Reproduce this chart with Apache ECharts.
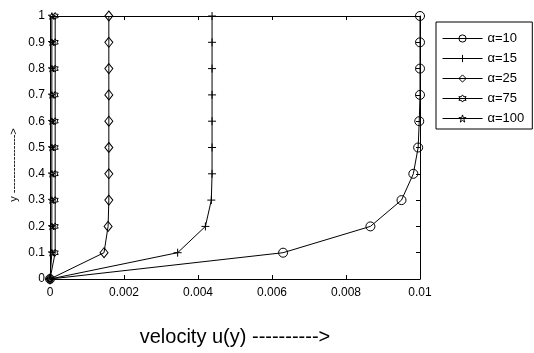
<!DOCTYPE html>
<html>
<head>
<meta charset="utf-8">
<script src="https://cdn.jsdelivr.net/npm/echarts@6/dist/echarts.min.js"></script>
<style>
  html, body { margin: 0; padding: 0; background: #fff; }
  #main { width: 534px; height: 353px; }
</style>
</head>
<body>
<div id="main"></div>
<script>
  // y positions (same for every curve)
  var yPos = [0, 0.1, 0.2, 0.3, 0.4, 0.5, 0.6, 0.7, 0.8, 0.9, 1];
  // velocity u(y) for each alpha
  var uAlpha10 = [0, 0.0063, 0.00866, 0.0095, 0.00982, 0.00995, 0.00998, 0.01, 0.01, 0.01, 0.01];
  var uAlpha15 = [0, 0.00345, 0.0042, 0.00436, 0.00438, 0.00438, 0.00438, 0.00438, 0.00438, 0.00438, 0.00438];
  var uAlpha25 = [0, 0.00146, 0.00157, 0.00159, 0.00159, 0.00159, 0.00159, 0.00159, 0.00159, 0.00159, 0.00159];
  var uAlpha75 = [0, 0.00014, 0.00014, 0.00014, 0.00014, 0.00014, 0.00014, 0.00014, 0.00014, 0.00014, 0.00014];
  var uAlpha100 = [0, 0.00005, 0.00005, 0.00005, 0.00005, 0.00005, 0.00005, 0.00005, 0.00005, 0.00005, 0.00005];
  var seriesNames = ['α=10', 'α=15', 'α=25', 'α=75', 'α=100'];

  // tick labels
  var xTickLabels = ['0', '0.002', '0.004', '0.006', '0.008', '0.01'];
  var yTickLabels = ['0', '0.1', '0.2', '0.3', '0.4', '0.5', '0.6', '0.7', '0.8', '0.9', '1'];

  var FONT = 'Liberation Sans';

  // marker shapes (matlab-like)
  var plusPath = 'path://M5,0L5,10M0,5L10,5';
  var hexPath = 'path://M0,-5L1.44,-2.5L4.33,-2.5L2.89,0L4.33,2.5L1.44,2.5L0,5L-1.44,2.5L-4.33,2.5L-2.89,0L-4.33,-2.5L-1.44,-2.5Z';
  var starPath = 'path://M0,-5L1.12,-1.55L4.76,-1.55L1.82,0.59L2.94,4.05L0,1.91L-2.94,4.05L-1.82,0.59L-4.76,-1.55L-1.12,-1.55Z';

  function pairs(u) {
    return u.map(function (v, i) { return [v, yPos[i]]; });
  }

  function mkSeries(name, u, symbol, size) {
    return {
      name: name,
      type: 'line',
      data: pairs(u),
      symbol: symbol,
      symbolSize: size,
      symbolKeepAspect: true,
      showAllSymbol: true,
      lineStyle: { color: '#000', width: 1 },
      itemStyle: { color: 'rgba(0,0,0,0)', borderColor: '#000', borderWidth: 1 },
      emphasis: { disabled: true },
      xAxisIndex: 0,
      yAxisIndex: 0
    };
  }

  function boxAxis(extra) {
    var base = {
      type: 'value',
      axisLine: { show: true, onZero: false, lineStyle: { color: '#000', width: 1 } },
      axisTick: { show: true, inside: true, length: 4, lineStyle: { color: '#000' } },
      splitLine: { show: false },
      axisLabel: { show: false }
    };
    for (var k in extra) base[k] = extra[k];
    return base;
  }

  var myChart = echarts.init(document.getElementById('main'));
  var option = {
    animation: false,
    backgroundColor: '#fff',
    grid: { left: 50, right: 114, top: 16, bottom: 74 },
    legend: {
      orient: 'vertical',
      left: 436,
      top: 22,
      padding: [10, 8, 4, 6],
      itemWidth: 40,
      itemHeight: 9,
      itemGap: 7,
      borderColor: '#000',
      borderWidth: 1,
      lineStyle: { width: 1, color: '#000' },
      itemStyle: { borderWidth: 1, borderColor: '#000', color: 'rgba(0,0,0,0)' },
      textStyle: { color: '#000', fontSize: 13, fontFamily: FONT },
      data: seriesNames
    },
    xAxis: [
      boxAxis({
        min: 0, max: 0.01, interval: 0.002, position: 'bottom',
        axisLabel: {
          show: true, color: '#000', fontSize: 12, fontFamily: FONT, margin: 8,
          formatter: function (v) { return xTickLabels[Math.round(v / 0.002)]; }
        },
        name: 'velocity u(y) ---------->',
        nameLocation: 'middle',
        nameGap: 48,
        nameTextStyle: { color: '#000', fontSize: 20, fontFamily: FONT }
      }),
      boxAxis({ min: 0, max: 0.01, interval: 0.002, position: 'top' })
    ],
    yAxis: [
      boxAxis({
        min: 0, max: 1, interval: 0.1, position: 'left',
        axisLabel: {
          show: true, color: '#000', fontSize: 12, fontFamily: FONT, margin: 5,
          formatter: function (v) { return yTickLabels[Math.round(v / 0.1)]; }
        }
      }),
      boxAxis({ min: 0, max: 1, interval: 0.1, position: 'right' })
    ],
    graphic: [{
      type: 'text',
      x: 14,
      y: 165,
      rotation: Math.PI / 2,
      style: {
        text: 'y ---------------->',
        fill: '#000',
        fontSize: 11,
        fontFamily: FONT,
        align: 'center',
        verticalAlign: 'middle'
      }
    }],
    series: [
      mkSeries(seriesNames[0], uAlpha10, 'circle', 9),
      mkSeries(seriesNames[1], uAlpha15, plusPath, 8),
      mkSeries(seriesNames[2], uAlpha25, 'diamond', [8, 10]),
      mkSeries(seriesNames[3], uAlpha75, hexPath, 7),
      mkSeries(seriesNames[4], uAlpha100, starPath, 7)
    ]
  };
  myChart.setOption(option);
</script>
</body>
</html>
